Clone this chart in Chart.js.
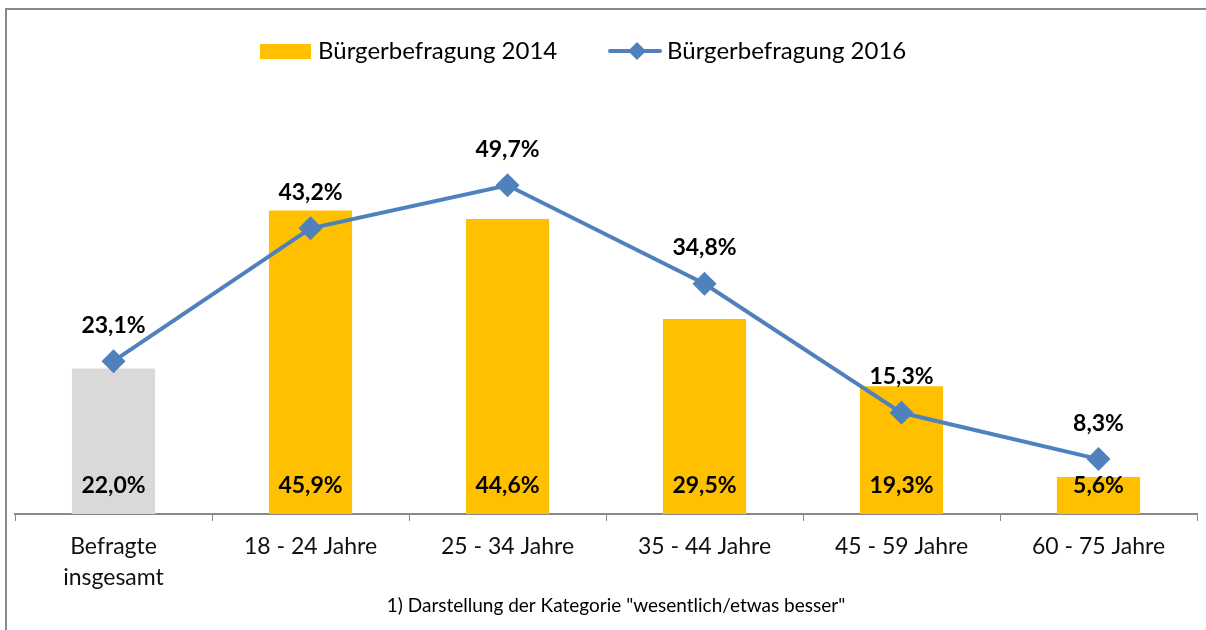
<!DOCTYPE html>
<html>
<head>
<meta charset="utf-8">
<script src="https://cdn.jsdelivr.net/npm/chart.js@4/dist/chart.umd.min.js"></script>
<style>
  html, body { margin: 0; padding: 0; background: #fff; overflow: hidden; }
  #wrap { width: 1209px; height: 630px; position: relative; }
</style>
</head>
<body>
<div id="wrap"><canvas id="chart"></canvas></div>
<script>
const categories = [["Befragte", "insgesamt"], "18 - 24 Jahre", "25 - 34 Jahre", "35 - 44 Jahre", "45 - 59 Jahre", "60 - 75 Jahre"];
const values2014 = [22.0, 45.9, 44.6, 29.5, 19.3, 5.6];
const values2016 = [23.1, 43.2, 49.7, 34.8, 15.3, 8.3];
const barColors = ["#D9D9D9", "#FFC000", "#FFC000", "#FFC000", "#FFC000", "#FFC000"];
const footnote = '1) Darstellung der Kategorie "wesentlich/etwas besser"';

const FONT = "Lato, 'Open Sans', sans-serif";
const fmt = v => v.toFixed(1).replace(".", ",") + "%";

// frame, legend, value labels, footnote
const extras = {
  id: "extras",
  beforeDraw(chart) {
    const c = chart.ctx;
    c.save();
    c.strokeStyle = "#888888";
    c.lineWidth = 2;
    c.beginPath();
    c.moveTo(6, 630);
    c.lineTo(6, 9);
    c.lineTo(1209, 9);
    c.stroke();
    c.restore();
  },
  afterDraw(chart) {
    const c = chart.ctx;
    const ds = chart.data.datasets;
    c.save();
    // legend
    c.font = "24px " + FONT;
    c.textBaseline = "middle";
    c.textAlign = "left";
    c.fillStyle = "#FFC000";
    c.fillRect(260, 44, 51, 15);
    c.fillStyle = "#000";
    c.fillText(ds[0].label, 318, 51);
    c.strokeStyle = "#4F81BD";
    c.lineWidth = 4;
    c.lineCap = "round";
    c.beginPath();
    c.moveTo(610, 51);
    c.lineTo(660, 51);
    c.stroke();
    c.fillStyle = "#4F81BD";
    c.beginPath();
    c.moveTo(637, 42); c.lineTo(646, 51); c.lineTo(637, 60); c.lineTo(628, 51);
    c.closePath();
    c.fill();
    c.fillStyle = "#000";
    c.fillText(ds[1].label, 667, 51);

    // value labels
    c.font = "bold 23px " + FONT;
    c.textAlign = "center";
    const yScale = chart.scales.y;
    chart.getDatasetMeta(0).data.forEach((el, i) => {
      c.fillText(fmt(values2014[i]), el.x, yScale.getPixelForValue(0) - 28);
    });
    chart.getDatasetMeta(1).data.forEach((el, i) => {
      c.fillText(fmt(values2016[i]), el.x, el.y - 36);
    });

    // footnote
    c.font = "19px " + FONT;
    c.fillText(footnote, 616, 606);
    c.restore();
  }
};

new Chart(document.getElementById("chart"), {
  data: {
    labels: categories,
    datasets: [
      {
        type: "bar",
        label: "Bürgerbefragung 2014",
        data: values2014,
        backgroundColor: barColors,
        barPercentage: 0.422,
        categoryPercentage: 1,
        order: 2
      },
      {
        type: "line",
        label: "Bürgerbefragung 2016",
        data: values2016,
        borderColor: "#4F81BD",
        backgroundColor: "#4F81BD",
        borderWidth: 4,
        pointStyle: "rectRot",
        pointRadius: 12,
        pointHoverRadius: 12,
        pointBorderWidth: 0,
        tension: 0,
        order: 1
      }
    ]
  },
  options: {
    responsive: true,
    maintainAspectRatio: false,
    animation: false,
    layout: { padding: { left: 15, right: 11, top: 51, bottom: 0 } },
    plugins: { legend: { display: false }, tooltip: { enabled: false } },
    scales: {
      x: {
        offset: true,
        grid: { display: true, drawOnChartArea: false, color: "#888888", tickLength: 7, offset: true },
        border: { color: "#888888", width: 2 },
        ticks: { font: { family: FONT, size: 23, lineHeight: 1.35 }, color: "#111", padding: 10, maxRotation: 0 },
        afterFit(scale) {
          scale.height = 116;
        }
      },
      y: {
        display: false,
        min: 0,
        max: 70
      }
    }
  },
  plugins: [extras]
});
</script>
</body>
</html>
